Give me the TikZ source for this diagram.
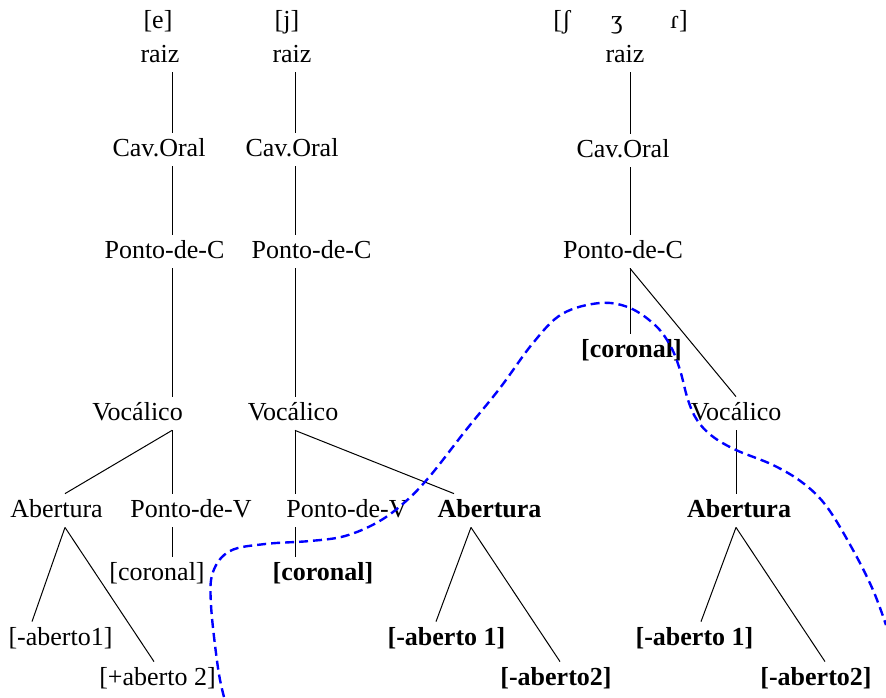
\documentclass[tikz,border=0pt]{standalone}
\usepackage{fontspec}
\setmainfont{Liberation Serif}
\begin{document}
\begin{tikzpicture}[x=0.5pt,y=-0.5pt,
  lbl/.style={anchor=base,inner xsep=0pt,inner ysep=2.5pt,text height=9pt,text depth=2.5pt,font=\fontsize{13}{15}\selectfont},
  blbl/.style={lbl,font=\fontsize{13}{15}\selectfont\bfseries},
  br/.style={line width=0.5pt,black},
  cut/.style={blue,line width=1.2pt,dash pattern=on 4.5pt off 2.5pt}]
\useasboundingbox (0,0) rectangle (886,697);
% column x positions
\coordinate (c1) at (172,0);
\coordinate (c2) at (295,0);
\coordinate (c3) at (630,0);
\coordinate (c3v) at (736,0);
\coordinate (a1) at (65,0);
\coordinate (a2) at (471,0);
\coordinate (v2a) at (454,0);
\coordinate (x1a) at (32,0);
\coordinate (x1b) at (154,0);
\coordinate (x2a) at (436,0);
\coordinate (x2b) at (560,0);
\coordinate (x3a) at (701,0);
\coordinate (x3b) at (825,0);
% top segments
\node[lbl] (s1) at (158,28) {[e]};
\node[lbl] (s2) at (287,28) {[j]};
\node[lbl] (s3a) at (562,28) {[ʃ};
\node[lbl] (s3b) at (617,28) {ʒ};
\node[lbl] (s3c) at (679,28) {ɾ]};
% column 1
\node[lbl] (raiz1) at (160,62) {raiz};
\node[lbl] (cav1) at (159,156) {Cav.Oral};
\node[lbl] (pc1) at (164.5,258) {Ponto-de-C};
\node[lbl] (voc1) at (137.5,420) {Vocálico};
\node[lbl] (ab1) at (56.5,517) {Abertura};
\node[lbl] (pv1) at (191,517) {Ponto-de-V};
\node[lbl] (cor1) at (157,580) {[coronal]};
\node[lbl] (m1) at (60.5,645) {[-aberto1]};
\node[lbl] (p1) at (157.5,685) {[+aberto 2]};
% column 2
\node[lbl] (raiz2) at (292,62) {raiz};
\node[lbl] (cav2) at (292,156) {Cav.Oral};
\node[lbl] (pc2) at (311.5,258) {Ponto-de-C};
\node[lbl] (voc2) at (293,420) {Vocálico};
\node[lbl] (pv2) at (347,517) {Ponto-de-V};
\node[blbl] (ab2) at (489.5,517) {Abertura};
\node[blbl] (cor2) at (323,580) {[coronal]};
\node[blbl] (m2) at (446.5,645) {[-aberto 1]};
\node[blbl] (n2) at (556,685) {[-aberto2]};
% column 3
\node[lbl] (raiz3) at (625,62) {raiz};
\node[lbl] (cav3) at (623,157) {Cav.Oral};
\node[lbl] (pc3) at (623,258) {Ponto-de-C};
\node[blbl] (cor3) at (631.5,357) {[coronal]};
\node[lbl] (voc3) at (736,420) {Vocálico};
\node[blbl] (ab3) at (739,517) {Abertura};
\node[blbl] (m3) at (694.5,645) {[-aberto 1]};
\node[blbl] (n3) at (816,685) {[-aberto2]};
% branches column 1
\draw[br] (raiz1.south -| c1) -- (cav1.north -| c1);
\draw[br] (cav1.south -| c1) -- (pc1.north -| c1);
\draw[br] (pc1.south -| c1) -- (voc1.north -| c1);
\draw[br] (voc1.south -| c1) -- (ab1.north -| a1);
\draw[br] (voc1.south -| c1) -- (pv1.north -| c1);
\draw[br] (pv1.south -| c1) -- (cor1.north -| c1);
\draw[br] (ab1.south -| a1) -- (m1.north -| x1a);
\draw[br] (ab1.south -| a1) -- (p1.north -| x1b);
% branches column 2
\draw[br] (raiz2.south -| c2) -- (cav2.north -| c2);
\draw[br] (cav2.south -| c2) -- (pc2.north -| c2);
\draw[br] (pc2.south -| c2) -- (voc2.north -| c2);
\draw[br] (voc2.south -| c2) -- (pv2.north -| c2);
\draw[br] (voc2.south -| c2) -- (ab2.north -| v2a);
\draw[br] (pv2.south -| c2) -- (cor2.north -| c2);
\draw[br] (ab2.south -| a2) -- (m2.north -| x2a);
\draw[br] (ab2.south -| a2) -- (n2.north -| x2b);
% branches column 3
\draw[br] (raiz3.south -| c3) -- (cav3.north -| c3);
\draw[br] (cav3.south -| c3) -- (pc3.north -| c3);
\draw[br] (pc3.south -| c3) -- (cor3.north -| c3);
\draw[br] (pc3.south -| c3) -- (voc3.north -| c3v);
\draw[br] (voc3.south -| c3v) -- (ab3.north -| c3v);
\draw[br] (ab3.south -| c3v) -- (m3.north -| x3a);
\draw[br] (ab3.south -| c3v) -- (n3.north -| x3b);
% dashed cut line
\draw[cut] plot[smooth,tension=0.6] coordinates {(224,697) (218,668) (211,605) (213,572) (230,551) (265,544) (310,541) (345,536) (378,522) (405,502) (430,476) (466,430) (500,388) (533,343) (562,314) (600,303) (630,308) (656,326) (671,347) (680,370) (688,400) (697,420) (712,436) (736,450) (773,465) (803,483) (827,507) (853,550) (873,590) (886,625)};
\end{tikzpicture}
\end{document}
